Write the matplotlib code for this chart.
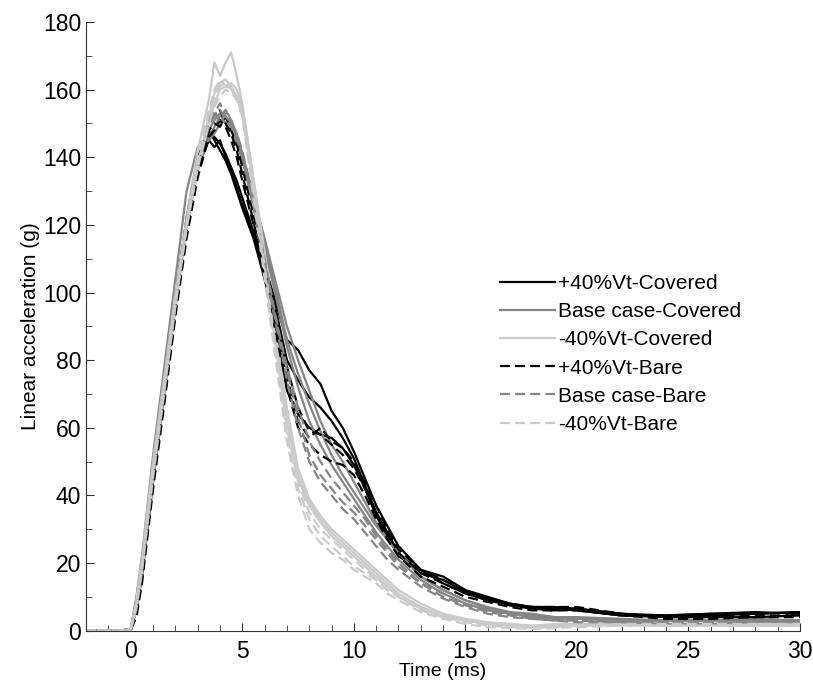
#!/usr/bin/env python3
"""Linear acceleration vs time for covered / bare impacts."""

import matplotlib
matplotlib.use("Agg")
import matplotlib.pyplot as plt
from matplotlib.ticker import MultipleLocator

plt.rcParams["font.family"] = ["Liberation Sans", "DejaVu Sans"]

# common time base (ms)
time_ms = [-2, -0.5, 0, 0.25, 0.5, 0.75, 1, 1.5, 2, 2.5, 3, 3.5, 3.75, 4, 4.25,
           4.5, 4.75, 5, 5.5, 6, 6.5, 7, 7.5, 8, 8.5, 9, 9.5, 10, 10.5, 11,
           11.5, 12, 13, 14, 15, 16, 17, 18, 19, 20, 22, 24, 26, 28, 30]

# +40%Vt-Covered
plus_cov = [
    [0, 0, 0.5, 9, 20, 34, 47, 72, 98, 120, 138, 147, 146, 144, 141, 137, 133, 128,
     118, 108, 97, 86, 83, 77, 73, 65, 60, 53, 45, 37, 31, 25, 18, 16, 12, 10,
     8, 7, 7, 6.5, 5, 4.5, 5, 5, 5.5],
    [0, 0, 0.3, 7, 18, 33, 46, 71, 96, 121, 137, 145, 143, 145, 140, 136, 131, 126,
     117, 106, 95, 80, 74, 69, 66, 62, 57, 51, 43, 35, 29, 23, 17, 15, 11.5, 9.5,
     7.5, 7, 6.5, 6, 4.5, 4.5, 5, 5.5, 5],
    [0, 0, 0.2, 6, 16, 30, 44, 70, 97, 122, 140, 148, 145, 142, 139, 135, 130, 125,
     116, 104, 90, 71, 64, 60, 58, 57, 54, 49, 42, 34, 28, 22, 18, 14, 11, 9,
     8, 6.5, 6, 6.5, 5, 4, 4.5, 5, 5.5],
]
# Base case-Covered
base_cov = [
    [0, 0, 0.5, 10, 22, 37, 52, 78, 104, 130, 143, 145, 147, 150, 152, 150, 146, 141,
     129, 115, 101, 86, 76, 67, 59, 52, 46, 41, 36, 31, 27, 23, 16, 12, 9, 6.5,
     5, 4.5, 4, 3.5, 3, 3, 3, 3, 3],
    [0, 0, 0.3, 8, 19, 34, 48, 73, 99, 121, 139, 148, 151, 153, 150, 148, 144, 139,
     127, 113, 99, 84, 72, 62, 55, 49, 44, 39, 34, 29, 25, 21, 15, 11, 8, 6,
     5, 4, 3.5, 3.5, 3, 3, 3, 3.5, 3],
    [0, 0, 0.2, 7, 18, 32, 46, 71, 97, 119, 136, 146, 149, 152, 154, 151, 147, 141,
     128, 116, 103, 90, 80, 71, 62, 55, 50, 44, 38, 32, 27, 23, 16, 12, 9, 7,
     5.5, 5, 4, 4, 3.5, 3, 3, 3, 3],
]
# -40%Vt-Covered
minus_cov = [
    [0, 0, 0.5, 9, 21, 36, 50, 75, 100, 122, 142, 157, 168, 164, 168, 171, 164, 156,
     133, 110, 86, 63, 46, 38, 33, 29, 26, 23, 20, 17, 14, 11, 7, 4.5, 3, 2,
     1.5, 1.2, 1.5, 1.5, 2, 1.5, 1.5, 1.5, 1.5],
    [0, 0, 0.3, 7, 18, 33, 47, 72, 97, 120, 138, 152, 159, 162, 163, 161, 158, 153,
     131, 108, 85, 62, 45, 37, 32, 28, 25, 22, 19, 16, 13, 10, 6.5, 4, 3, 2,
     1.5, 1, 1, 1.5, 2, 1.5, 1.5, 1.5, 1.5],
    [0, 0, 0.2, 6, 17, 31, 45, 70, 95, 118, 136, 150, 156, 160, 161, 162, 160, 155,
     134, 112, 88, 66, 48, 39, 34, 30, 27, 24, 21, 18, 15, 12, 8, 5, 3.5, 2.5,
     2, 1.5, 2, 2, 2, 2, 2, 1.5, 2],
]
# +40%Vt-Bare
plus_bare = [
    [0, 0, 0.5, 5, 15, 30, 44, 68, 94, 118, 137, 151, 153, 154, 150, 147, 142, 135,
     121, 106, 90, 75, 62, 57, 60, 56, 54, 50, 44, 37, 30, 24, 18, 15, 12, 9.5,
     8, 7, 7, 7, 5, 4, 4, 4.5, 4.5],
    [0, 0, 0.4, 6, 17, 31, 45, 70, 95, 119, 136, 148, 150, 149, 152, 148, 144, 137,
     123, 108, 92, 78, 66, 59, 58, 55, 52, 48, 42, 35, 29, 23, 17, 14, 11, 9,
     7.5, 6.5, 6.5, 6, 4.5, 4, 4, 4, 4.5],
    [0, 0, 0.3, 4, 14, 28, 42, 67, 93, 116, 134, 146, 148, 151, 149, 145, 140, 133,
     120, 104, 88, 72, 60, 55, 52, 50, 49, 46, 40, 33, 27, 22, 16, 13, 10, 8.5,
     7, 6, 6, 6, 4.5, 3.5, 3.5, 4, 4],
]
# Base case-Bare
base_bare = [
    [0, 0, 0.4, 8, 19, 34, 48, 73, 99, 121, 139, 150, 152, 154, 151, 149, 145, 140,
     125, 108, 92, 78, 66, 56, 50, 45, 41, 37, 33, 28, 24, 20, 14, 11, 8, 6,
     5, 4, 3.5, 3, 3, 2.5, 2.5, 3, 2.5],
    [0, 0, 0.3, 6, 17, 31, 45, 70, 96, 119, 137, 149, 153, 156, 152, 150, 147, 142,
     127, 110, 93, 77, 63, 52, 46, 42, 38, 35, 31, 27, 23, 19, 14, 10, 7.5, 5.5,
     4.5, 3.5, 3, 3, 2.5, 2.5, 2.5, 2.5, 2.5],
    [0, 0, 0.5, 9, 20, 35, 49, 74, 100, 122, 140, 151, 154, 150, 153, 150, 146, 141,
     126, 109, 91, 74, 60, 50, 44, 40, 36, 33, 29, 25, 21, 18, 13, 9.5, 7, 5,
     4, 3.5, 3, 2.5, 2.5, 2, 2, 2.5, 2.5],
]
# -40%Vt-Bare
minus_bare = [
    [0, 0, 0.4, 8, 19, 34, 48, 73, 98, 120, 139, 153, 158, 161, 162, 160, 158, 154,
     130, 106, 82, 58, 42, 33, 28, 25, 22, 19, 17, 15, 12, 10, 6, 4, 2.5, 1.5,
     1, 0.8, 1, 1.5, 1.5, 1.5, 1.5, 1.5, 1.5],
    [0, 0, 0.3, 7, 18, 32, 46, 71, 96, 119, 137, 150, 155, 158, 160, 159, 157, 152,
     128, 104, 80, 56, 40, 30, 26, 23, 21, 18, 16, 14, 11, 9, 5.5, 3.5, 2, 1,
     0.8, 0.5, 0.8, 1, 1.5, 1.5, 1.5, 1.5, 1.5],
    [0, 0, 0.5, 9, 20, 35, 49, 74, 99, 121, 140, 154, 160, 163, 161, 160, 157, 153,
     132, 108, 84, 60, 44, 35, 30, 27, 24, 21, 18, 15.5, 13, 10.5, 7, 4.5, 3, 2,
     1.5, 1, 1.2, 1.5, 2, 2, 2, 2, 2],
]

labels = ["+40%Vt-Covered", "Base case-Covered", "-40%Vt-Covered",
          "+40%Vt-Bare", "Base case-Bare", "-40%Vt-Bare"]
groups = [plus_cov, base_cov, minus_cov, plus_bare, base_bare, minus_bare]
colors = ["#000000", "#858585", "#cacaca", "#000000", "#858585", "#cacaca"]
dashed = [False, False, False, True, True, True]

fig = plt.figure(figsize=(8.13, 6.87), dpi=100)
ax = fig.add_axes([0.106, 0.082, 0.878, 0.886])

for group, lab, col, dsh in zip(groups, labels, colors, dashed):
    for i, vals in enumerate(group):
        kw = dict(color=col, lw=1.6, label=lab if i == 0 else None)
        if dsh:
            kw["dashes"] = (4.5, 2.3)
        ax.plot(time_ms, vals, **kw)

ax.set_xlim(-2, 30)
ax.set_ylim(0, 180)
ax.xaxis.set_major_locator(MultipleLocator(5))
ax.xaxis.set_minor_locator(MultipleLocator(1))
ax.yaxis.set_major_locator(MultipleLocator(20))
ax.yaxis.set_minor_locator(MultipleLocator(10))
ax.tick_params(which="both", direction="in", labelsize=16.5, color="#333333")
ax.tick_params(which="major", length=6)
ax.tick_params(which="minor", length=4)
ax.tick_params(axis="x", which="both", pad=7)
for s in ["top", "right"]:
    ax.spines[s].set_visible(False)
for s in ["left", "bottom"]:
    ax.spines[s].set_color("#333333")
ax.set_xlabel("Time (ms)", fontsize=14, labelpad=0)
ax.set_ylabel("Linear acceleration (g)", fontsize=15, labelpad=2)

ax.legend(loc="upper left", bbox_to_anchor=(500 / 813, 1 - 274 / 687),
          bbox_transform=fig.transFigure, frameon=False, fontsize=15,
          handlelength=2.65, handletextpad=0.15, labelspacing=0.44,
          borderpad=0, borderaxespad=0)

fig.savefig("out.png", dpi=100)
